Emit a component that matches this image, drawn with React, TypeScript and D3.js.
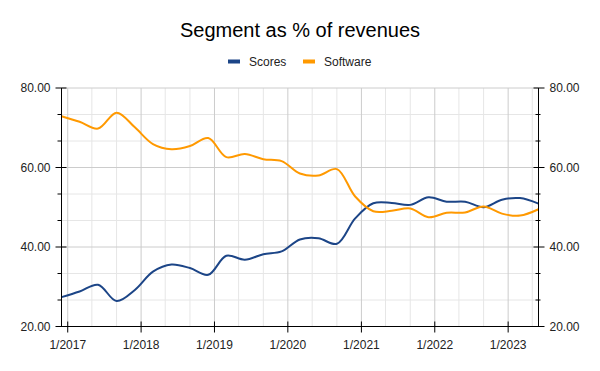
import React from 'react';
import * as d3 from 'd3';

// quarterly dates, first of month (12/2016 ... 6/2023)
const dates = [
  '2016-12', '2017-03', '2017-06', '2017-09', '2017-12', '2018-03', '2018-06', '2018-09', '2018-12',
  '2019-03', '2019-06', '2019-09', '2019-12', '2020-03', '2020-06', '2020-09', '2020-12',
  '2021-03', '2021-06', '2021-09', '2021-12', '2022-03', '2022-06', '2022-09', '2022-12',
  '2023-03', '2023-06',
];

const scores = [
  27.4, 28.8, 30.5, 26.4, 29.2, 33.8, 35.6, 34.7, 33.0,
  37.8, 36.8, 38.2, 38.9, 41.9, 42.2, 40.8, 47.2,
  51.0, 51.1, 50.6, 52.5, 51.4, 51.4, 50.0, 51.9,
  52.3, 50.9,
];

const software = [
  72.9, 71.5, 69.8, 73.8, 70.1, 65.9, 64.6, 65.4, 67.4,
  62.6, 63.4, 62.1, 61.6, 58.5, 58.0, 59.6, 52.7,
  49.0, 49.1, 49.7, 47.5, 48.6, 48.7, 50.2, 48.4,
  47.9, 49.5,
];

const series = [
  { name: 'Scores', values: scores, color: '#1c4587' },
  { name: 'Software', values: software, color: '#ff9900' },
];

const yTicks = [20, 40, 60, 80];
const yearTicks = [2017, 2018, 2019, 2020, 2021, 2022, 2023];

const W = 600;
const H = 371;
const margin = { top: 88, right: 61.5, bottom: 44.5, left: 61.5 };
const font = 'Arial, "Liberation Sans", sans-serif';

export default function App() {
  const parse = d3.timeParse('%Y-%m');
  const x = d3.scaleTime()
    .domain([parse(dates[0])!, parse(dates[dates.length - 1])!])
    .range([margin.left, W - margin.right]);
  const y = d3.scaleLinear().domain([20, 80]).range([H - margin.bottom, margin.top]);

  const x0 = margin.left;
  const x1 = W - margin.right;
  const yBottom = H - margin.bottom;

  // minor grid: every 4 months, every 20/3 on y
  const minorX = d3.timeMonth.every(4)!.range(new Date(2017, 0, 1), new Date(2023, 7, 1))
    .filter((d) => d.getMonth() !== 0 && x(d) <= x1);
  const minorY = d3.range(20, 80, 20 / 3).filter((v) => !yTicks.includes(v));

  const line = d3.line<number>()
    .x((_, i) => x(parse(dates[i])!))
    .y((v) => y(v))
    .curve(d3.curveCatmullRom.alpha(0.5));

  return (
    <svg width={W} height={H} style={{ position: 'absolute', left: 0, top: 0 }} fontFamily={font}>
      <rect width={W} height={H} fill="#fff" />
      <text x={300} y={37} textAnchor="middle" fontSize={20} fill="#000">Segment as % of revenues</text>

      {/* legend */}
      <g fontSize={12} fill="#222">
        <rect x={228} y={59.5} width={12} height={4} fill={series[0].color} />
        <text x={249} y={65.5}>Scores</text>
        <rect x={303} y={59.5} width={12} height={4} fill={series[1].color} />
        <text x={324} y={65.5}>Software</text>
      </g>

      {/* grid */}
      {minorY.map((v) => (
        <line key={'my' + v} x1={x0} x2={x1} y1={y(v)} y2={y(v)} stroke="#e6e6e6" />
      ))}
      {minorX.map((d) => (
        <line key={'mx' + d.getTime()} x1={x(d)} x2={x(d)} y1={margin.top} y2={yBottom} stroke="#e6e6e6" />
      ))}
      {yTicks.map((v) => (
        <line key={'gy' + v} x1={x0} x2={x1} y1={y(v)} y2={y(v)} stroke="#cccccc" />
      ))}
      {yearTicks.map((yr) => {
        const px = x(new Date(yr, 0, 1));
        return <line key={'gx' + yr} x1={px} x2={px} y1={margin.top} y2={yBottom} stroke="#cccccc" />;
      })}

      {/* lines */}
      {series.map((s) => (
        <path key={s.name} d={line(s.values) ?? ''} fill="none" stroke={s.color} strokeWidth={2} />
      ))}

      {/* axes */}
      <g stroke="#000">
        <line x1={x0} x2={x0} y1={margin.top} y2={yBottom} />
        <line x1={x1} x2={x1} y1={margin.top} y2={yBottom} />
        <line x1={x0} x2={x1} y1={yBottom} y2={yBottom} />
        {yTicks.map((v) => (
          <g key={'ty' + v}>
            <line x1={x0 - 6} x2={x0 + 5} y1={y(v)} y2={y(v)} />
            <line x1={x1 - 5} x2={x1 + 6} y1={y(v)} y2={y(v)} />
          </g>
        ))}
        {minorY.map((v) => (
          <g key={'tmy' + v}>
            <line x1={x0 - 4} x2={x0} y1={y(v)} y2={y(v)} />
            <line x1={x1 - 3} x2={x1 + 2} y1={y(v)} y2={y(v)} />
          </g>
        ))}
        {yearTicks.map((yr) => {
          const px = x(new Date(yr, 0, 1));
          return <line key={'tx' + yr} x1={px} x2={px} y1={yBottom - 5} y2={yBottom + 6} />;
        })}
      </g>

      <g fontSize={12} fill="#222">
        {yTicks.map((v) => (
          <g key={'ly' + v}>
            <text x={x0 - 11} y={y(v) + 4} textAnchor="end">{v.toFixed(2)}</text>
            <text x={x1 + 11} y={y(v) + 4}>{v.toFixed(2)}</text>
          </g>
        ))}
        {yearTicks.map((yr) => (
          <text key={'lx' + yr} x={x(new Date(yr, 0, 1))} y={349} textAnchor="middle">{'1/' + yr}</text>
        ))}
      </g>
    </svg>
  );
}
